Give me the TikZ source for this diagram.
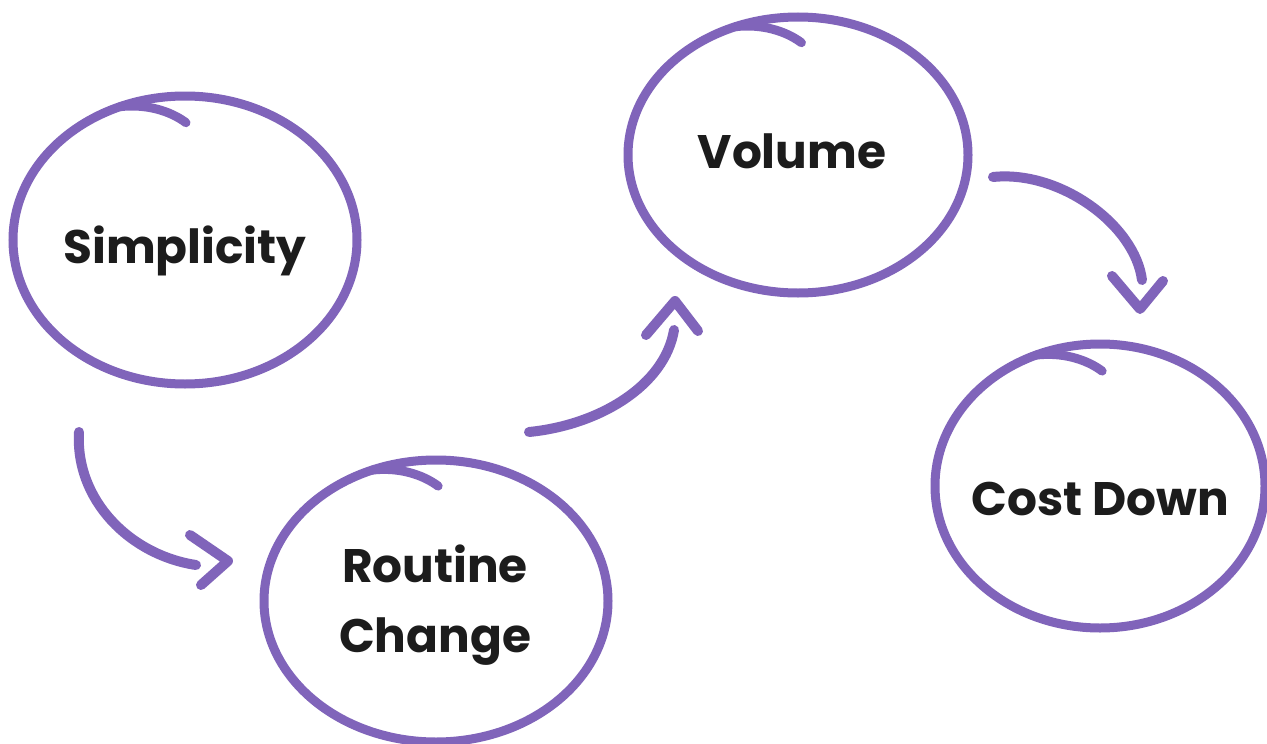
\documentclass[tikz,border=0pt]{standalone}
\usepackage{fontspec}
\setmainfont{Poppins}
\usetikzlibrary{shapes.geometric,calc}
\definecolor{pen}{RGB}{128,100,186}
\definecolor{ink}{RGB}{28,28,28}
\tikzset{
  ring/.style={ellipse, draw=pen, line width=9pt, inner sep=0pt, outer sep=0pt},
  tail/.style={draw=pen, line width=9pt, line cap=round},
  shaft/.style={draw=pen, line width=10pt, line cap=round},
  chev/.style={draw=pen, line width=10pt, line cap=round, line join=round},
  lbl/.style={text=ink, font=\fontsize{47}{70}\selectfont\bfseries, align=center, inner sep=0pt}
}
\begin{document}
\begin{tikzpicture}[x=1pt,y=-1pt]
\useasboundingbox[fill=white] (0,0) rectangle (1267,744);
% circles
\node[ring, minimum width=344pt, minimum height=288pt] (simp) at (185,240) {};
\node[ring, minimum width=344pt, minimum height=282pt] (rout) at (436,601) {};
\node[ring, minimum width=340pt, minimum height=276pt] (vol) at (798,155) {};
\node[ring, minimum width=330pt, minimum height=284pt] (cost) at (1100,486) {};
% tails
\foreach \n in {simp,rout,vol,cost}{
  \draw[tail] (\n.116) .. controls ($(\n.116)+(26,-3)$) and ($(\n.116)+(50,4)$) .. ($(\n.116)+(66,16)$);
}
% labels
\node[lbl, anchor=base] (tsimp) at (185,263) {Simplicity};
\node[lbl, anchor=base] (tvol) at (792,168) {Volume};
\node[lbl, anchor=base] (tcost) at (1100,515) {Cost Down};
\node[lbl, anchor=center] (trout) at (435,605) {Routine\\Change};
% arrow 1
\coordinate (a1s) at (79,432);
\coordinate (a1e) at (196,565);
\coordinate (h1a) at (190,535);
\coordinate (h1t) at (228,561);
\coordinate (h1b) at (201,585);
\draw[shaft] (a1s) .. controls (75,500) and (130,555) .. (a1e);
\draw[chev] (h1a) -- (h1t) -- (h1b);
% arrow 2
\coordinate (a2s) at (529,432);
\coordinate (a2e) at (674,330);
\coordinate (h2a) at (646,335);
\coordinate (h2t) at (675,301);
\coordinate (h2b) at (698,331);
\draw[shaft] (a2s) .. controls (600,425) and (665,385) .. (a2e);
\draw[chev] (h2a) -- (h2t) -- (h2b);
% arrow 3
\coordinate (a3s) at (993,177);
\coordinate (a3e) at (1142,280);
\coordinate (h3a) at (1112,276);
\coordinate (h3t) at (1140,309);
\coordinate (h3b) at (1163,281);
\draw[shaft] (a3s) .. controls (1060,170) and (1135,225) .. (a3e);
\draw[chev] (h3a) -- (h3t) -- (h3b);
\end{tikzpicture}
\end{document}
